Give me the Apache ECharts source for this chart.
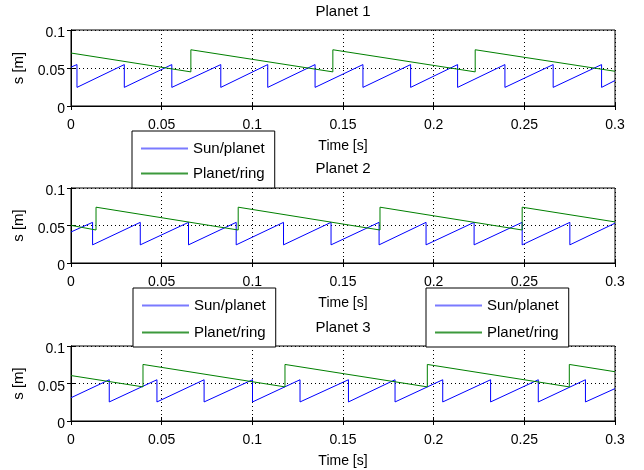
<!DOCTYPE html>
<html><head><meta charset="utf-8">
<script src="https://cdn.jsdelivr.net/npm/echarts@6/dist/echarts.min.js"></script>
<style>html,body{margin:0;padding:0;background:#fff}#c{width:644px;height:470px}</style>
</head><body><div id="c"></div>
<script>
// ---- data ----
const xTicks = [0, 0.05, 0.1, 0.15, 0.2, 0.25, 0.3];
const yTicks = [0, 0.05, 0.1];
const titles = ['Planet 1', 'Planet 2', 'Planet 3'];
const seriesNames = ['Sun/planet', 'Planet/ring'];
const xName = 'Time [s]';
const yName = 's [m]';

// Planet 1
const p1SunDropT = [0.0033, 0.0294, 0.0556, 0.0826, 0.1085, 0.1346, 0.1610, 0.1873, 0.2132, 0.2393, 0.2659, 0.2926];
const p1SunLevels = [0.0545, 0.0245];   // value just before / just after each drop
const p1SunEdges = [0.0512, 0.0335];    // value at t=0 / t=0.3
const p1RingJumpT = [0.0661, 0.1444, 0.2229];
const p1RingLevels = [0.0449, 0.0740];
const p1RingEdges = [0.0697, 0.0457];

// Planet 2
const p2SunDropT = [0.0119, 0.0382, 0.0648, 0.0911, 0.1172, 0.1434, 0.1699, 0.1958, 0.2223, 0.2488, 0.2751];
const p2SunLevels = [0.0542, 0.0242];
const p2SunEdges = [0.0414, 0.0531];
const p2RingJumpT = [0.0138, 0.0922, 0.1704, 0.2488];
const p2RingLevels = [0.0440, 0.0744];
const p2RingEdges = [0.0502, 0.0548];

// Planet 3
const p3SunDropT = [0.0211, 0.0474, 0.0734, 0.1001, 0.1263, 0.1530, 0.1787, 0.2050, 0.2314, 0.2577, 0.2837];
const p3SunLevels = [0.0550, 0.0254];
const p3SunEdges = [0.0310, 0.0432];
const p3RingJumpT = [0.0397, 0.1180, 0.1965, 0.2748];
const p3RingLevels = [0.0455, 0.0754];
const p3RingEdges = [0.0606, 0.0657];

// ---- build polylines (vertices only) ----
function verts(times, levels, edges) {
  const pts = [[xTicks[0], edges[0]]];
  times.forEach(t => { pts.push([t, levels[0]]); pts.push([t, levels[1]]); });
  pts.push([xTicks[xTicks.length - 1], edges[1]]);
  return pts;
}
const plots = [
  [verts(p1SunDropT, p1SunLevels, p1SunEdges), verts(p1RingJumpT, p1RingLevels, p1RingEdges)],
  [verts(p2SunDropT, p2SunLevels, p2SunEdges), verts(p2RingJumpT, p2RingLevels, p2RingEdges)],
  [verts(p3SunDropT, p3SunLevels, p3SunEdges), verts(p3RingJumpT, p3RingLevels, p3RingEdges)]
];

const FONT = '"Liberation Sans", Arial, Helvetica, sans-serif';
const grids = [
  {left: 71, right: 29, top: 30, height: 76},
  {left: 71, right: 29, top: 188, height: 75},
  {left: 71, right: 29, top: 346, height: 75}
];
const titleTops = [4.5, 161.5, 320];
const colors = ['#0000ff', '#008000'];
const legendColors = ['#7a7aff', '#3c993c'];

const xAxes = [], yAxes = [], series = [];
grids.forEach((g, i) => {
  Object.assign(g, {show: true, borderColor: '#000', borderWidth: 1, backgroundColor: '#fff'});
  const common = {min: xTicks[0], max: xTicks[xTicks.length - 1], interval: xTicks[1] - xTicks[0], gridIndex: i};
  xAxes.push(Object.assign({
    type: 'value', position: 'bottom', name: xName, nameLocation: 'middle', nameGap: 33,
    nameTextStyle: {color: '#000', fontSize: 14, fontFamily: FONT},
    axisLine: {show: true, lineStyle: {color: '#000', width: 1}},
    axisTick: {show: true, inside: true, length: 4, lineStyle: {color: '#000'}},
    axisLabel: {color: '#000', fontSize: 14, fontFamily: FONT, margin: 12},
    splitLine: {show: true, lineStyle: {color: '#000', type: [1, 3], width: 1}}
  }, common));
  xAxes.push(Object.assign({
    type: 'value', position: 'top',
    axisLine: {show: true, lineStyle: {color: '#000'}},
    axisTick: {show: true, inside: true, length: 4, lineStyle: {color: '#000'}},
    axisLabel: {show: false}, splitLine: {show: false}
  }, common));
  const ycommon = {min: yTicks[0], max: yTicks[yTicks.length - 1], interval: yTicks[1] - yTicks[0], gridIndex: i};
  yAxes.push(Object.assign({
    type: 'value', position: 'left', name: yName, nameLocation: 'middle', nameGap: 40, nameRotate: 90,
    nameTextStyle: {color: '#000', fontSize: 15, fontFamily: FONT},
    axisLine: {show: true, lineStyle: {color: '#000', width: 1}},
    axisTick: {show: true, inside: true, length: 4, lineStyle: {color: '#000'}},
    axisLabel: {color: '#000', fontSize: 14, fontFamily: FONT, margin: 6, verticalAlign: 'top', lineHeight: 7},
    splitLine: {show: true, lineStyle: {color: '#000', type: [1, 3], width: 1}}
  }, ycommon));
  yAxes.push(Object.assign({
    type: 'value', position: 'right',
    axisLine: {show: true, lineStyle: {color: '#000'}},
    axisTick: {show: true, inside: true, length: 4, lineStyle: {color: '#000'}},
    axisLabel: {show: false}, splitLine: {show: false}
  }, ycommon));
  plots[i].forEach((pts, k) => {
    series.push({
      type: 'line', name: seriesNames[k], xAxisIndex: 2 * i, yAxisIndex: 2 * i,
      data: pts, symbol: 'none', animation: false,
      lineStyle: {color: colors[k], width: 1}, itemStyle: {color: colors[k]}
    });
  });
});

function legendAt(left, top, pad, gap) {
  return {
    left: left, top: top, orient: 'vertical',
    data: seriesNames.map((n, k) => ({
      name: n, icon: 'rect',
      itemStyle: {color: legendColors[k], borderWidth: 0, borderColor: legendColors[k], opacity: 1}
    })),
    padding: pad, itemGap: gap, itemWidth: 47, itemHeight: 2,
    itemStyle: {borderWidth: 0},
    backgroundColor: '#fff', borderColor: '#000', borderWidth: 1, borderRadius: 0,
    textStyle: {color: '#000', fontSize: 15, fontFamily: FONT, lineHeight: 15},
    selectedMode: false
  };
}

const option = {
  animation: false,
  backgroundColor: '#fff',
  title: titles.map((t, i) => ({
    text: t, left: 343, top: titleTops[i], textAlign: 'center', padding: 0,
    textStyle: {color: '#000', fontSize: 15, fontWeight: 'normal', fontFamily: FONT}
  })),
  legend: [
    legendAt(132, 131, [10, 10, 7, 9], 10),
    legendAt(133, 288, [10, 10, 7, 9], 12),
    legendAt(426, 288, [10, 10, 7, 9], 12)
  ],
  grid: grids,
  xAxis: xAxes,
  yAxis: yAxes,
  series: series
};
const chart = echarts.init(document.getElementById('c'), null, {renderer: 'canvas'});
chart.setOption(option);
</script>
</body></html>
